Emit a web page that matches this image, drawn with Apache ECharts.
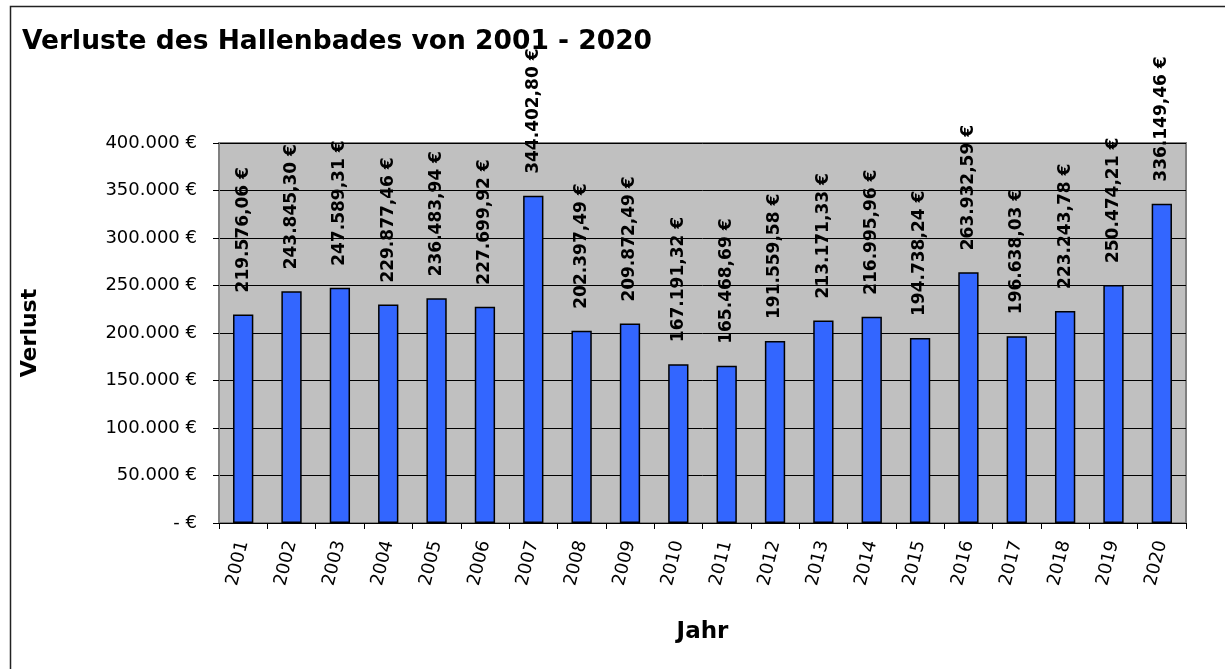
<!DOCTYPE html>
<html>
<head>
<meta charset="utf-8">
<script src="https://cdn.jsdelivr.net/npm/echarts@6/dist/echarts.min.js"></script>
<style>
html,body{margin:0;padding:0;background:#fff;}
#chart{width:1225px;height:669px;}
</style>
</head>
<body>
<div id="chart"></div>
<script>
const years = ['2001','2002','2003','2004','2005','2006','2007','2008','2009','2010','2011','2012','2013','2014','2015','2016','2017','2018','2019','2020'];
const losses = [219576.06,243845.30,247589.31,229877.46,236483.94,227699.92,344402.80,202397.49,209872.49,167191.32,165468.69,191559.58,213171.33,216995.96,194738.24,263932.59,196638.03,223243.78,250474.21,336149.46];
const yTicks = [0,50000,100000,150000,200000,250000,300000,350000,400000];
const titleText = 'Verluste des Hallenbades von 2001 - 2020';
const yName = 'Verlust';
const xName = 'Jahr';

function groupDE(intStr){
  return intStr.replace(/\B(?=(\d{3})+(?!\d))/g, '.');
}
function fmtEuro2(v){
  const parts = v.toFixed(2).split('.');
  return groupDE(parts[0]) + ',' + parts[1] + ' €';
}
function fmtEuro0(v){
  if (v === 0) return '- €';
  return groupDE(String(Math.round(v))) + ' €';
}

const chart = echarts.init(document.getElementById('chart'), null, {renderer:'canvas'});
const FONT = 'DejaVu Sans';
chart.setOption({
  animation:false,
  backgroundColor:'#ffffff',
  title:{
    text:titleText, left:17, top:24,
    textStyle:{fontFamily:FONT, fontWeight:'bold', fontSize:26.5, color:'#000'}
  },
  grid:{
    left:219, top:143, right:39, bottom:146,
    show:true, backgroundColor:'#c0c0c0', borderColor:'#808080', borderWidth:2
  },
  xAxis:{
    type:'category', data:years, boundaryGap:true,
    name:xName, nameLocation:'middle', nameGap:98,
    nameTextStyle:{fontFamily:FONT, fontWeight:'bold', fontSize:23, color:'#000'},
    axisLine:{show:true, lineStyle:{color:'#000', width:1}},
    axisTick:{show:true, alignWithLabel:false, length:6, lineStyle:{color:'#000'}},
    axisLabel:{rotate:76, fontFamily:FONT, fontSize:18, color:'#000', margin:18, interval:0},
    splitLine:{show:false}
  },
  yAxis:{
    type:'value', min:0, max:400000, interval:50000,
    name:yName, nameLocation:'middle', nameGap:178, nameRotate:90,
    nameTextStyle:{fontFamily:FONT, fontWeight:'bold', fontSize:22, color:'#000'},
    axisLine:{show:true, lineStyle:{color:'#808080', width:2}},
    axisTick:{show:true, length:6, lineStyle:{color:'#000'}},
    axisLabel:{fontFamily:FONT, fontSize:18, color:'#000', margin:22,
      formatter:function(v){ return yTicks.indexOf(v) >= 0 ? fmtEuro0(v) : ''; }},
    splitLine:{show:true, lineStyle:{color:'#000', width:1}}
  },
  series:[{
    type:'bar', data:losses, barCategoryGap:'58%',
    itemStyle:{color:'#3366ff', borderColor:'#000', borderWidth:1.5},
    label:{
      show:true, position:'top', rotate:90, distance:22,
      align:'left', verticalAlign:'middle',
      fontFamily:FONT, fontWeight:'bold', fontSize:17, color:'#000',
      formatter:function(p){ return fmtEuro2(p.value); }
    }
  }],
  graphic:[{
    type:'rect', left:8, top:4, silent:true,
    shape:{x:0, y:0, width:1300, height:720},
    style:{fill:'none', stroke:'#222', lineWidth:1.5},
    z:-1
  }]
});
</script>
</body>
</html>
